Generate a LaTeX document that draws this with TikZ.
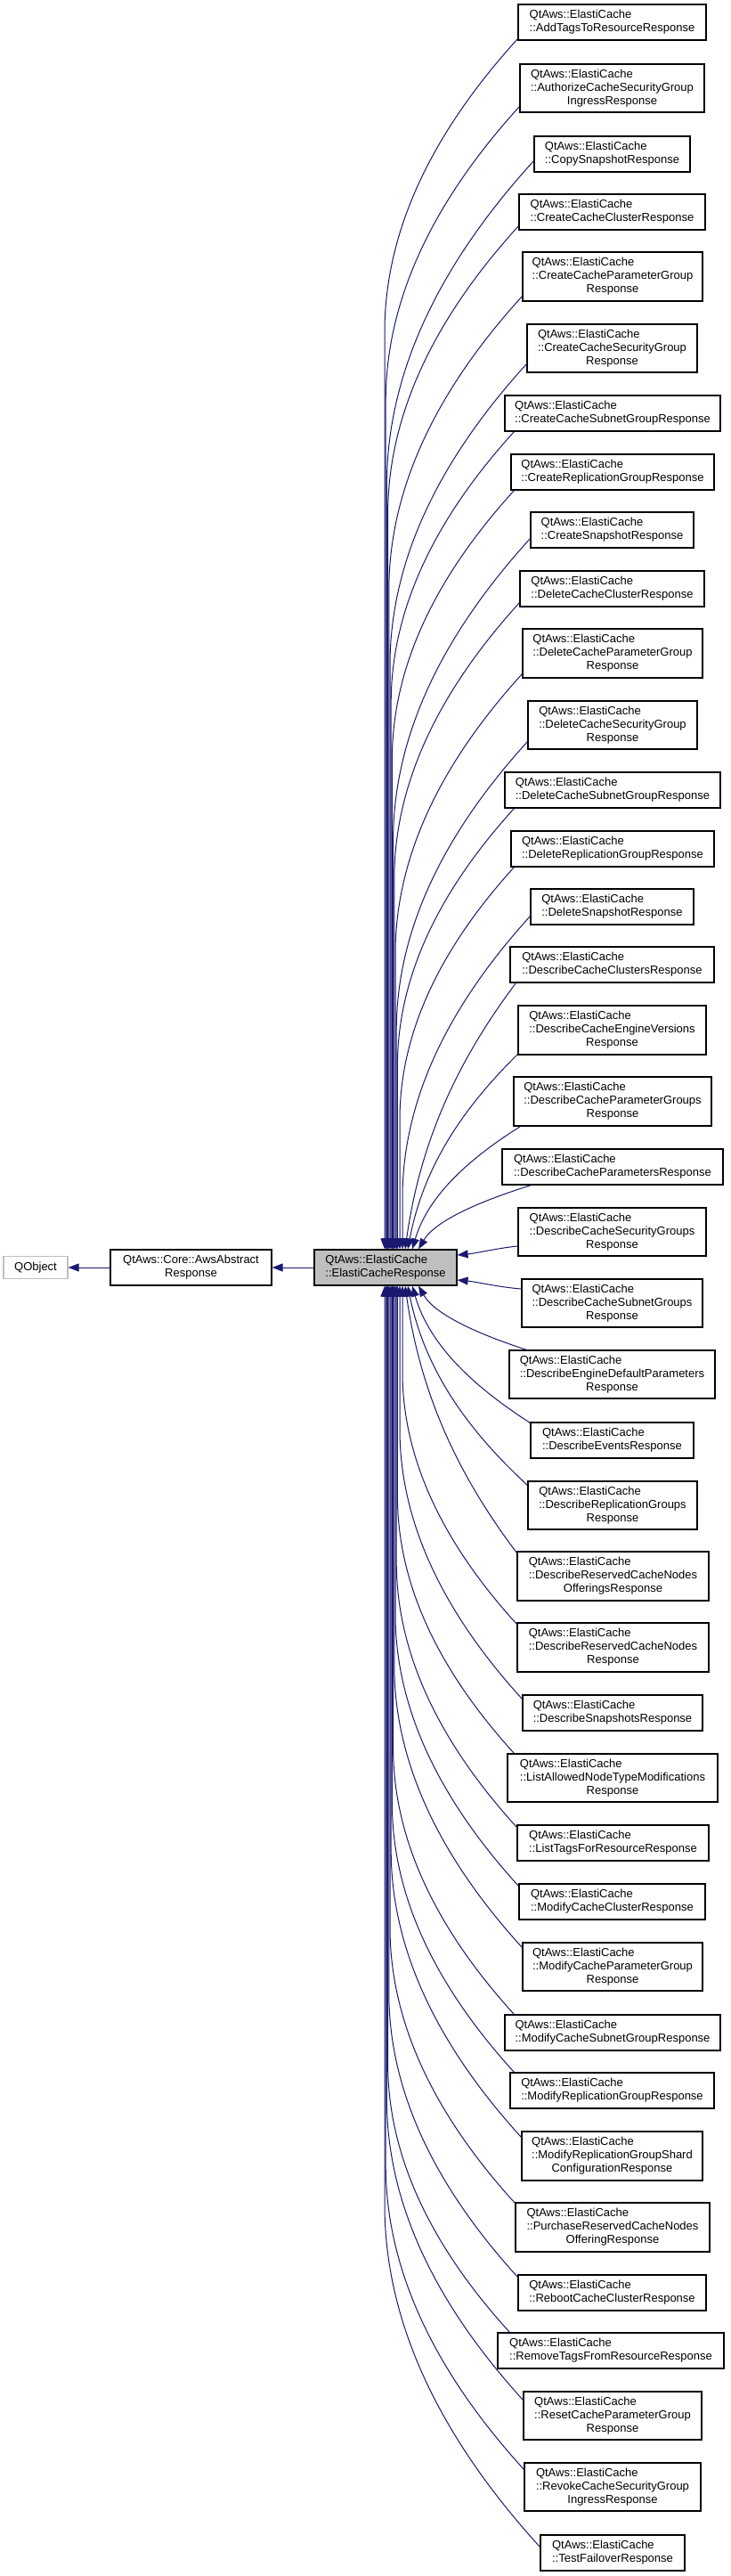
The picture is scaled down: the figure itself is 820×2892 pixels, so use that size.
\documentclass[tikz,border=0pt]{standalone}
\usepackage{fontspec}
\setmainfont{Liberation Sans}
\usetikzlibrary{arrows.meta}
\definecolor{edgeblue}{RGB}{25,25,112}
\definecolor{lgray}{RGB}{191,191,191}
\newcommand\twol[1]{\begin{tabular}{@{}l@{}}QtAws::ElastiCache\\::#1\end{tabular}}
\newcommand\threel[2]{\begin{tabular}{@{}l@{}}QtAws::ElastiCache\\::#1\\\multicolumn{1}{@{}c@{}}{#2}\end{tabular}}
\newcommand\cnode[6]{%
 \pgfmathsetmacro\cww{#3-#2}\pgfmathsetmacro\chh{#5-#4}%
 \pgfmathsetmacro\cxx{(#2+#3)/2}\pgfmathsetmacro\cyy{(#4+#5)/2}%
 \node[cbox,minimum width=\cww pt,minimum height=\chh pt] (#1) at (\cxx,\cyy) {#6};}
\begin{document}
\begin{tikzpicture}[x=1pt,y=-1pt,
  cbox/.style={draw=black,line width=1.2pt,fill=white,inner sep=0pt,font=\fontsize{13}{15}\selectfont},
  edge/.style={draw=edgeblue,line width=1pt,-{Triangle[length=12pt,width=9pt]}}]
\fill[white] (0,0) rectangle (820,2892);
\useasboundingbox (0,0) rectangle (820,2892);

\node[cbox,draw=lgray,minimum width=72pt,minimum height=25pt] (q) at (40,1423) {QObject};
\node[cbox,minimum width=181pt,minimum height=40pt] (a) at (214.5,1423) {\begin{tabular}{@{}c@{}}QtAws::Core::AwsAbstract\\Response\end{tabular}};
\node[cbox,fill=lgray,minimum width=160pt,minimum height=40pt] (p) at (433,1423) {\begin{tabular}{@{}l@{}}QtAws::ElastiCache\\::ElastiCacheResponse\end{tabular}};

\cnode{c1}{582}{793}{5}{45}{\twol{AddTagsToResourceResponse}}
\cnode{c2}{584}{791}{72}{126}{\threel{AuthorizeCacheSecurityGroup}{IngressResponse}}
\cnode{c3}{600}{775}{153}{193}{\twol{CopySnapshotResponse}}
\cnode{c4}{583}{792}{218}{258}{\twol{CreateCacheClusterResponse}}
\cnode{c5}{587}{789}{283}{338}{\threel{CreateCacheParameterGroup}{Response}}
\cnode{c6}{592}{783}{364}{418}{\threel{CreateCacheSecurityGroup}{Response}}
\cnode{c7}{567}{809}{444}{484}{\twol{CreateCacheSubnetGroupResponse}}
\cnode{c8}{574}{802}{510}{550}{\twol{CreateReplicationGroupResponse}}
\cnode{c9}{596}{779}{575}{615}{\twol{CreateSnapshotResponse}}
\cnode{c10}{584}{791}{641}{681}{\twol{DeleteCacheClusterResponse}}
\cnode{c11}{587}{789}{706}{761}{\threel{DeleteCacheParameterGroup}{Response}}
\cnode{c12}{593}{783}{787}{841}{\threel{DeleteCacheSecurityGroup}{Response}}
\cnode{c13}{567}{809}{867}{907}{\twol{DeleteCacheSubnetGroupResponse}}
\cnode{c14}{574}{802}{933}{973}{\twol{DeleteReplicationGroupResponse}}
\cnode{c15}{596}{779}{998}{1038}{\twol{DeleteSnapshotResponse}}
\cnode{c16}{573}{802}{1063}{1103}{\twol{DescribeCacheClustersResponse}}
\cnode{c17}{582}{793}{1129}{1184}{\threel{DescribeCacheEngineVersions}{Response}}
\cnode{c18}{577}{799}{1209}{1264}{\threel{DescribeCacheParameterGroups}{Response}}
\cnode{c19}{564}{812}{1290}{1330}{\twol{DescribeCacheParametersResponse}}
\cnode{c20}{582}{793}{1356}{1410}{\threel{DescribeCacheSecurityGroups}{Response}}
\cnode{c21}{586}{789}{1436}{1490}{\threel{DescribeCacheSubnetGroups}{Response}}
\cnode{c22}{572}{803}{1516}{1570}{\threel{DescribeEngineDefaultParameters}{Response}}
\cnode{c23}{596}{779}{1597}{1637}{\twol{DescribeEventsResponse}}
\cnode{c24}{593}{783}{1663}{1717}{\threel{DescribeReplicationGroups}{Response}}
\cnode{c25}{581}{796}{1742}{1797}{\threel{DescribeReservedCacheNodes}{OfferingsResponse}}
\cnode{c26}{581}{796}{1822}{1877}{\threel{DescribeReservedCacheNodes}{Response}}
\cnode{c27}{587}{789}{1903}{1943}{\twol{DescribeSnapshotsResponse}}
\cnode{c28}{570}{806}{1969}{2023}{\threel{ListAllowedNodeTypeModifications}{Response}}
\cnode{c29}{581}{796}{2049}{2089}{\twol{ListTagsForResourceResponse}}
\cnode{c30}{583}{792}{2115}{2155}{\twol{ModifyCacheClusterResponse}}
\cnode{c31}{587}{789}{2181}{2235}{\threel{ModifyCacheParameterGroup}{Response}}
\cnode{c32}{567}{809}{2262}{2302}{\twol{ModifyCacheSubnetGroupResponse}}
\cnode{c33}{573}{802}{2327}{2367}{\twol{ModifyReplicationGroupResponse}}
\cnode{c34}{586}{789}{2393}{2448}{\threel{ModifyReplicationGroupShard}{ConfigurationResponse}}
\cnode{c35}{579}{797}{2473}{2528}{\threel{PurchaseReservedCacheNodes}{OfferingResponse}}
\cnode{c36}{582}{793}{2554}{2594}{\twol{RebootCacheClusterResponse}}
\cnode{c37}{559}{813}{2619}{2659}{\twol{RemoveTagsFromResourceResponse}}
\cnode{c38}{588}{788}{2685}{2739}{\threel{ResetCacheParameterGroup}{Response}}
\cnode{c39}{589}{787}{2765}{2819}{\threel{RevokeCacheSecurityGroup}{IngressResponse}}
\cnode{c40}{607}{769}{2846}{2886}{\twol{TestFailoverResponse}}

\draw[edge] (p.west) -- (a.east);
\draw[edge] (a.west) -- (q.east);

% children above the parent
\foreach \id/\lft/\yb/\xs/\ys/\exx in {
 1/582/45/0/2/432, 2/584/126/0/7/433.2, 3/600/193/0/13/434.4, 4/583/258/0/5/435.6,
 5/587/338/0/6/436.8, 6/592/418/0/10/438, 7/567/484/11/0/439.2, 8/574/550/4/0/440.4,
 9/596/615/0/11/441.6, 10/584/681/0/5/442.8, 11/587/761/0/5/444, 12/593/841/0/9/445.2,
 13/567/907/11/0/446.4, 14/574/973/4/0/449, 15/596/1038/0/10/452, 16/573/1103/7/0/455,
 17/582/1184/0/1/458, 18/577/1264/8/0/463, 19/564/1330/33/0/470}{
  \pgfmathsetmacro\sx{\lft+\xs}
  \pgfmathsetmacro\sy{\yb-\ys}
  \pgfmathsetmacro\ddx{\sx-\exx}
  \pgfmathsetmacro\ddy{1403-\sy}
  \pgfmathtruncatemacro\far{\ddy>2.6*\ddx ? 1 : 0}
  \pgfmathsetmacro\exs{\exx-433}
  \ifnum\far=1
    \pgfmathsetmacro\ax{\sx-0.5*\ddx}
    \pgfmathsetmacro\ay{\sy+0.55*\ddx}
    \pgfmathsetmacro\ym{\sy+2.2*\ddx}
    \pgfmathsetmacro\by{\ym-0.9*\ddx}
    \draw[edge] ([xshift=\xs pt,yshift=\ys pt]c\id.south west) .. controls (\ax,\ay) and (\exx,\by) .. (\exx,\ym) -- ([xshift=\exs pt]p.north);
  \else
    \pgfmathsetmacro\ax{\sx-0.45*\ddx}
    \pgfmathsetmacro\ay{\sy+0.25*\ddy}
    \pgfmathsetmacro\bx{\exx+0.15*\ddx}
    \pgfmathsetmacro\by{1403-0.45*\ddy}
    \draw[edge] ([xshift=\xs pt,yshift=\ys pt]c\id.south west) .. controls (\ax,\ay) and (\bx,\by) .. ([xshift=\exs pt]p.north);
  \fi
}

% children below the parent
\foreach \id/\lft/\yt/\xs/\ys/\exx in {
 22/572/1516/20/0/470, 23/596/1597/0/1/463, 24/593/1663/0/5/458, 25/581/1742/0/2/455,
 26/581/1822/0/2/452, 27/587/1903/0/5/449, 28/570/1969/8/0/446.4, 29/581/2049/0/3/445.2,
 30/583/2115/0/3/444, 31/587/2181/0/6/442.8, 32/567/2262/11/0/441.6, 33/573/2327/5/0/440.4,
 34/586/2393/0/7/439.2, 35/579/2473/0/1/438, 36/582/2554/0/3/436.8, 37/559/2619/14/0/435.6,
 38/588/2685/0/10/434.4, 39/589/2765/0/8/433.2, 40/607/2846/0/14/432}{
  \pgfmathsetmacro\sx{\lft+\xs}
  \pgfmathsetmacro\sy{\yt+\ys}
  \pgfmathsetmacro\ddx{\sx-\exx}
  \pgfmathsetmacro\ddy{\sy-1443}
  \pgfmathtruncatemacro\far{\ddy>2.6*\ddx ? 1 : 0}
  \pgfmathsetmacro\exs{\exx-433}
  \ifnum\far=1
    \pgfmathsetmacro\ax{\sx-0.5*\ddx}
    \pgfmathsetmacro\ay{\sy-0.55*\ddx}
    \pgfmathsetmacro\ym{\sy-2.2*\ddx}
    \pgfmathsetmacro\by{\ym+0.9*\ddx}
    \draw[edge] ([xshift=\xs pt,yshift=-\ys pt]c\id.north west) .. controls (\ax,\ay) and (\exx,\by) .. (\exx,\ym) -- ([xshift=\exs pt]p.south);
  \else
    \pgfmathsetmacro\ax{\sx-0.45*\ddx}
    \pgfmathsetmacro\ay{\sy-0.25*\ddy}
    \pgfmathsetmacro\bx{\exx+0.15*\ddx}
    \pgfmathsetmacro\by{1443+0.45*\ddy}
    \draw[edge] ([xshift=\xs pt,yshift=-\ys pt]c\id.north west) .. controls (\ax,\ay) and (\bx,\by) .. ([xshift=\exs pt]p.south);
  \fi
}

\draw[edge] ([yshift=-16pt]c20.west) .. controls (560,1401) and (535,1407) .. ([yshift=14pt]p.east);
\draw[edge] ([yshift=16pt]c21.west) .. controls (560,1445) and (535,1439) .. ([yshift=-14pt]p.east);
\end{tikzpicture}
\end{document}
